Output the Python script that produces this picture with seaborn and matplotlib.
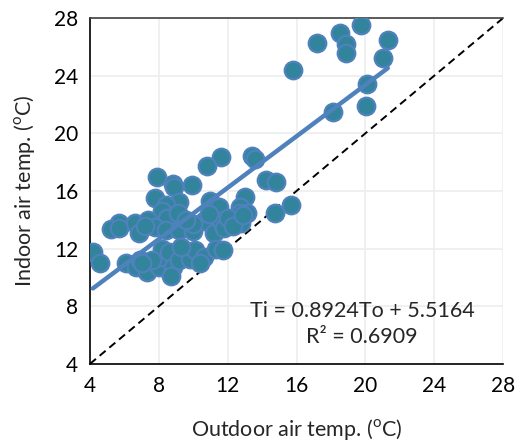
import numpy as np
import pandas as pd
import matplotlib
matplotlib.use("Agg")
import matplotlib.pyplot as plt
import seaborn as sns

# outdoor / indoor temperature pairs
outdoor = [15.8, 17.2, 18.5, 18.9, 18.9, 19.75, 21.3, 21.0, 20.1, 20.05, 18.1,
           11.6, 10.8, 13.4, 13.6, 14.2, 14.8, 9.9, 7.9, 8.8, 8.9, 13.0, 11.0,
           15.7, 14.75, 7.8, 9.2, 8.4, 8.2,
           8.5, 11.5, 12.7, 13.1, 12.7, 5.7, 5.2, 5.7, 6.6, 6.85, 7.4, 7.8, 8.4,
           9.2, 10.0, 10.6, 11.2, 11.6, 11.8, 12.0, 12.8, 10.9, 10.0, 9.1, 7.2,
           9.6, 12.3, 12.9,
           4.17, 4.6, 6.1, 6.7, 6.9, 7.3, 8.0, 8.1, 8.2, 8.6, 8.8, 8.7, 9.2,
           9.8, 10.1, 10.6, 11.3, 9.3, 7.6, 10.4, 11.7, 7.0]
indoor = [24.4, 26.3, 26.95, 26.2, 25.6, 27.5, 26.5, 25.2, 23.4, 21.9, 21.5,
          18.35, 17.7, 18.4, 18.25, 16.75, 16.6, 16.4, 16.95, 16.5, 16.25, 15.55, 15.3,
          15.0, 14.45, 15.5, 15.25, 15.0, 14.6,
          14.1, 14.9, 14.9, 14.5, 14.5, 13.8, 13.35, 13.4, 13.8, 13.1, 14.0, 13.5, 13.3,
          13.3, 13.2, 13.9, 13.1, 13.9, 13.4, 14.1, 13.8, 14.4, 13.7, 14.5, 13.6,
          14.0, 13.6, 14.3,
          11.75, 11.0, 11.0, 10.7, 11.2, 10.4, 10.7, 11.4, 12.0, 11.75, 10.7, 10.1, 11.2,
          11.3, 11.9, 11.4, 12.0, 12.1, 11.2, 11.0, 11.9, 11.0]

# trendline reported on the chart
slope = 0.8924
intercept = 5.5164
r2 = 0.6909

ticks = [4, 8, 12, 16, 20, 24, 28]

df = pd.DataFrame({"To": outdoor, "Ti": indoor})

sns.set_style("white")
plt.rcParams["font.family"] = ["Lato", "DejaVu Sans"]

fig = plt.figure(figsize=(5.23, 4.4), dpi=100)
ax = fig.add_axes([0.172, 0.173, 0.79, 0.786])

# 1:1 line
sns.lineplot(x=[ticks[0], ticks[-1]], y=[ticks[0], ticks[-1]], ax=ax,
             color="black", linestyle=(0, (4, 2.5)), linewidth=1.4, zorder=2)

sns.scatterplot(data=df, x="To", y="Ti", ax=ax, s=160, color="#31849B",
                edgecolor="#4F81BD", linewidth=1.6, zorder=3)

fit_x = np.array([min(outdoor), max(outdoor)])
sns.lineplot(x=fit_x, y=slope * fit_x + intercept, ax=ax,
             color="#4F81BD", linewidth=3.2, zorder=4)

ax.set_xlim(ticks[0], ticks[-1])
ax.set_ylim(ticks[0], ticks[-1])
ax.set_xticks(ticks)
ax.set_yticks(ticks)
ax.grid(True, color="#EEEEEE", linewidth=1.2, zorder=0)
ax.set_axisbelow(True)

ax.tick_params(direction="inout", length=9, width=1, labelsize=15,
               colors="black", pad=4)
ax.tick_params(axis="y", color="#888888")
for side in ["left", "bottom"]:
    ax.spines[side].set_color("black")
    ax.spines[side].set_linewidth(1.2)
ax.spines["top"].set_color("#404040")
ax.spines["top"].set_linewidth(1.2)
ax.spines["right"].set_visible(False)

ax.set_xlabel(r"Outdoor air temp. ($^\mathregular{o}$C)", fontsize=15.5, labelpad=15)
ax.set_ylabel(r"Indoor air temp. ($^\mathregular{o}$C)", fontsize=15.5, labelpad=12)

ax.text(19.8, 7.7, f"Ti = {slope}To + {intercept}", fontsize=15.5,
        ha="center", va="center")
ax.text(19.8, 5.85, f"R² = {r2}", fontsize=15.5, ha="center", va="center")

fig.savefig("out.png", dpi=100)
